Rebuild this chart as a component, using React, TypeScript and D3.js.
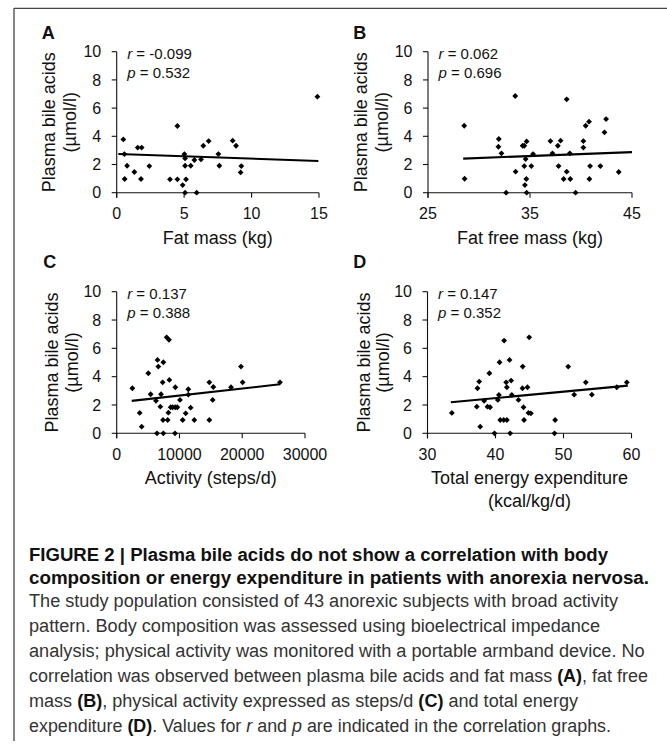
import React from "react";
import * as d3 from "d3";

// ---------- data ----------
const yTicks = [0, 2, 4, 6, 8, 10];

// Panel A: fat mass (kg) vs plasma bile acids (µmol/l)
const fatMass = [0.49, 0.57, 0.77, 0.59, 1.31, 1.56, 1.85, 1.8, 2.42, 4.5, 3.95, 4.5, 5.02, 5.07, 5.07, 4.89, 5.14, 5.07, 5.93, 5.49, 5.76, 6.25, 6.42, 6.82, 7.54, 7.61, 8.6, 8.85, 9.24, 9.19, 14.88];
const bileA = [3.78, 2.74, 1.91, 0.97, 1.47, 3.2, 3.2, 0.97, 1.89, 4.73, 0.95, 0.95, 2.74, 2.43, 1.91, 0.54, 0.95, 0, 0, 1.91, 2.32, 2.36, 3.33, 3.66, 2.74, 1.91, 3.69, 3.33, 1.89, 1.44, 6.81];
const fatMassTicks = [0, 5, 10, 15];
const trendAX = [0.12, 14.95];
const trendAY = [2.74, 2.25];

// Panel B: fat free mass (kg)
const fatFreeMass = [28.55, 28.59, 31.94, 31.9, 32.2, 32.66, 33.55, 33.59, 34.28, 34.44, 34.67, 34.57, 34.44, 34.64, 34.5, 34.67, 35.13, 35.3, 37.0, 37.2, 37.73, 38.0, 37.8, 38.6, 38.6, 38.3, 38.95, 38.9, 39.47, 40.23, 40.23, 40.46, 40.79, 40.89, 40.82, 41.9, 42.46, 42.3, 43.7];
const bileB = [4.75, 0.99, 3.81, 3.26, 2.79, 0, 6.86, 1.49, 3.33, 3.33, 3.64, 2.39, 1.89, 0.97, 0.54, 0, 1.89, 2.74, 3.66, 2.79, 3.33, 3.69, 1.89, 6.62, 1.49, 0.97, 0.97, 2.79, 0, 3.66, 3.2, 4.75, 5.04, 1.89, 0.97, 1.89, 5.22, 4.28, 1.47];
const fatFreeTicks = [25, 35, 45];
const trendBX = [28.45, 45];
const trendBY = [2.42, 2.88];

// Panel C: activity (steps/d)
const steps = [2495, 3660, 3980, 5040, 5410, 6260, 6500, 6630, 6420, 7060, 6950, 7320, 7430, 7380, 7430, 7960, 8330, 8390, 8120, 8230, 8600, 8920, 9340, 9340, 9660, 9290, 10080, 10510, 10990, 11410, 11410, 11780, 12370, 14760, 15390, 15290, 14760, 18210, 19800, 20060, 26010];
const bileC = [3.18, 1.44, 0.47, 4.24, 2.76, 2.29, 5.18, 4.71, 0, 2.76, 1.88, 3.6, 5.02, 0.94, 0, 6.78, 6.6, 3.77, 0.94, 1.46, 1.84, 1.84, 3.25, 1.84, 1.84, 0, 2.36, 0.94, 1.41, 3.11, 2.73, 1.81, 0.94, 3.6, 3.27, 2.36, 0.94, 3.25, 4.71, 3.6, 3.6];
const stepTicks = [0, 10000, 20000, 30000];
const trendCX = [2390, 26010];
const trendCY = [2.29, 3.46];

// Panel D: total energy expenditure (kcal/kg/d)
const energy = [33.58, 37.25, 37.35, 37.6, 37.75, 38.33, 38.82, 39.2, 39.1, 39.85, 40.34, 40.5, 40.6, 40.7, 41.2, 41.27, 41.57, 41.67, 41.67, 42.06, 42.16, 42.3, 42.4, 43.38, 44.0, 43.97, 44.12, 44.2, 44.7, 44.95, 44.85, 45.2, 48.68, 48.77, 50.69, 51.57, 53.28, 54.17, 57.84, 59.31];
const bileD = [1.44, 1.88, 3.18, 3.65, 0.47, 2.29, 1.88, 1.84, 4.24, 0, 2.36, 2.71, 5.02, 0.94, 0.94, 6.55, 3.6, 3.25, 0.94, 5.18, 0, 3.72, 2.71, 2.36, 4.71, 3.18, 1.84, 0.94, 3.25, 6.78, 1.44, 1.41, 0, 0.94, 4.71, 2.73, 3.6, 2.73, 3.25, 3.6];
const energyTicks = [30, 40, 50, 60];
const trendDX = [33.43, 59.46];
const trendDY = [2.19, 3.37];

const panelLetters = ["A", "B", "C", "D"];
const rTexts = ["-0.099", "0.062", "0.137", "0.147"];
const pTexts = ["0.532", "0.696", "0.388", "0.352"];
const xTitles = [["Fat mass (kg)"], ["Fat free mass (kg)"], ["Activity (steps/d)"], ["Total energy expenditure", "(kcal/kg/d)"]];
const yTitleLines = ["Plasma bile acids", "(µmol/l)"];

// ---------- layout ----------
const FONT = "'Liberation Sans', Arial, Helvetica, sans-serif";
const INK = "#111";

type PanelDef = {
  letter: string; lx: number; ly: number;
  left: number; right: number; top: number; bottom: number;
  domain: [number, number]; ticks: number[];
  xs: number[]; ys: number[]; tx: number[]; ty: number[];
  r: string; p: string; xTitle: string[];
  yOff1: number; yOff2: number;
};

const panels: PanelDef[] = [
  { letter: panelLetters[0], lx: 41.7, ly: 39.3, left: 116.7, right: 319, top: 51.7, bottom: 192.7, domain: [0, 15], ticks: fatMassTicks, xs: fatMass, ys: bileA, tx: trendAX, ty: trendAY, r: rTexts[0], p: pTexts[0], xTitle: xTitles[0], yOff1: 61.7, yOff2: 40.5 },
  { letter: panelLetters[1], lx: 353.3, ly: 39.3, left: 428, right: 632, top: 51.7, bottom: 192.7, domain: [25, 45], ticks: fatFreeTicks, xs: fatFreeMass, ys: bileB, tx: trendBX, ty: trendBY, r: rTexts[1], p: pTexts[1], xTitle: xTitles[1], yOff1: 61.3, yOff2: 40 },
  { letter: panelLetters[2], lx: 43.3, ly: 268, left: 116.7, right: 305, top: 291.7, bottom: 433.3, domain: [0, 30000], ticks: stepTicks, xs: steps, ys: bileC, tx: trendCX, ty: trendCY, r: rTexts[2], p: pTexts[2], xTitle: xTitles[2], yOff1: 58.7, yOff2: 38.7 },
  { letter: panelLetters[3], lx: 353.3, ly: 268, left: 427.5, right: 631.5, top: 291.7, bottom: 433.3, domain: [30, 60], ticks: energyTicks, xs: energy, ys: bileD, tx: trendDX, ty: trendDY, r: rTexts[3], p: pTexts[3], xTitle: xTitles[3], yOff1: 57.5, yOff2: 38.5 },
];

const diamond = d3.symbol(d3.symbolSquare, 17)() as string;

function Panel({ d }: { d: PanelDef }) {
  const x = d3.scaleLinear().domain(d.domain).range([d.left, d.right]);
  const y = d3.scaleLinear().domain([0, 10]).range([d.bottom, d.top]);
  const line = d3.line<number>().x((_, i) => x(d.tx[i])).y((_, i) => y(d.ty[i]));
  const midY = (d.top + d.bottom) / 2;
  const midX = (d.left + d.right) / 2;
  return (
    <g fontFamily={FONT} fill={INK}>
      <text x={d.lx} y={d.ly} fontSize={18} fontWeight="bold">{d.letter}</text>
      {/* y axis */}
      <line x1={d.left} x2={d.left} y1={d.top} y2={d.bottom + 5} stroke={INK} strokeWidth={1.1} />
      {yTicks.map((t) => (
        <g key={"y" + t}>
          <line x1={d.left - 5} x2={d.left} y1={y(t)} y2={y(t)} stroke={INK} strokeWidth={1.1} />
          <text x={d.left - 15.5} y={y(t)} dy="0.36em" textAnchor="end" fontSize={16}>{t}</text>
        </g>
      ))}
      {/* x axis */}
      <line x1={d.left} x2={d.right} y1={d.bottom} y2={d.bottom} stroke={INK} strokeWidth={1.1} />
      {d.ticks.map((t) => (
        <g key={"x" + t}>
          <line x1={x(t)} x2={x(t)} y1={d.bottom} y2={d.bottom + 5} stroke={INK} strokeWidth={1.1} />
          <text x={x(t)} y={d.bottom + 26.5} textAnchor="middle" fontSize={16}>{t}</text>
        </g>
      ))}
      {d.xTitle.map((s, i) => (
        <text key={s} x={midX} y={d.bottom + 51 + i * 22.5} textAnchor="middle" fontSize={18}>{s}</text>
      ))}
      <text transform={`translate(${d.left - d.yOff1},${midY}) rotate(-90)`} textAnchor="middle" fontSize={18}>{yTitleLines[0]}</text>
      <text transform={`translate(${d.left - d.yOff2},${midY}) rotate(-90)`} textAnchor="middle" fontSize={18}>{yTitleLines[1]}</text>
      {/* annotations */}
      <text x={d.left + 10.5} y={d.top + 7.5} fontSize={15}>
        <tspan fontStyle="italic">r</tspan> = {d.r}
      </text>
      <text x={d.left + 10.5} y={d.top + 26} fontSize={15}>
        <tspan fontStyle="italic">p</tspan> = {d.p}
      </text>
      {/* points */}
      {d.xs.map((v, i) => (
        <path key={i} d={diamond} transform={`translate(${x(v)},${y(d.ys[i])}) rotate(45)`} fill="#000" />
      ))}
      <path d={line(d.tx) || ""} fill="none" stroke="#000" strokeWidth={2.1} />
    </g>
  );
}

type Seg = { t: string; b?: boolean; i?: boolean };
const captionLines: { segs: Seg[]; w: number; bold?: boolean }[] = [
  { segs: [{ t: "FIGURE 2 | Plasma bile acids do not show a correlation with body" }], w: 579, bold: true },
  { segs: [{ t: "composition or energy expenditure in patients with anorexia nervosa." }], w: 620, bold: true },
  { segs: [{ t: "The study population consisted of 43 anorexic subjects with broad activity" }], w: 589 },
  { segs: [{ t: "pattern. Body composition was assessed using bioelectrical impedance" }], w: 571 },
  { segs: [{ t: "analysis; physical activity was monitored with a portable armband device. No" }], w: 615.7 },
  { segs: [{ t: "correlation was observed between plasma bile acids and fat mass " }, { t: "(A)", b: true }, { t: ", fat free" }], w: 619 },
  { segs: [{ t: "mass " }, { t: "(B)", b: true }, { t: ", physical activity expressed as steps/d " }, { t: "(C)", b: true }, { t: " and total energy" }], w: 549 },
  { segs: [{ t: "expenditure " }, { t: "(D)", b: true }, { t: ". Values for " }, { t: "r", i: true }, { t: " and " }, { t: "p", i: true }, { t: " are indicated in the correlation graphs." }], w: 582 },
];
const captionBaselines = [560.7, 583.5, 606.9, 631.7, 656.7, 681.7, 706.7, 731.7];

export default function App() {
  return (
    <svg width={667} height={750} viewBox="0 0 667 750" style={{ position: "absolute", left: 0, top: 0, background: "#fff" }}>
      <rect x={0} y={0} width={667} height={750} fill="#fff" />
      <line x1={14} x2={667} y1={8.3} y2={8.3} stroke="#444" strokeWidth={1.3} />
      <line x1={14} x2={14} y1={8.3} y2={741} stroke="#444" strokeWidth={1.3} />
      {panels.map((p) => <Panel key={p.letter} d={p} />)}
      {captionLines.map((ln, k) => (
        <text key={k} x={29} y={captionBaselines[k]} fontFamily={FONT} fontSize={18}
          fill={ln.bold ? "#111" : "#333"} fontWeight={ln.bold ? "bold" : "normal"}
          textLength={ln.w} lengthAdjust="spacingAndGlyphs">
          {ln.segs.map((s, j) => (
            <tspan key={j} fontWeight={s.b || ln.bold ? "bold" : "normal"} fontStyle={s.i ? "italic" : "normal"} fill={s.b ? "#111" : undefined}>{s.t}</tspan>
          ))}
        </text>
      ))}
    </svg>
  );
}
